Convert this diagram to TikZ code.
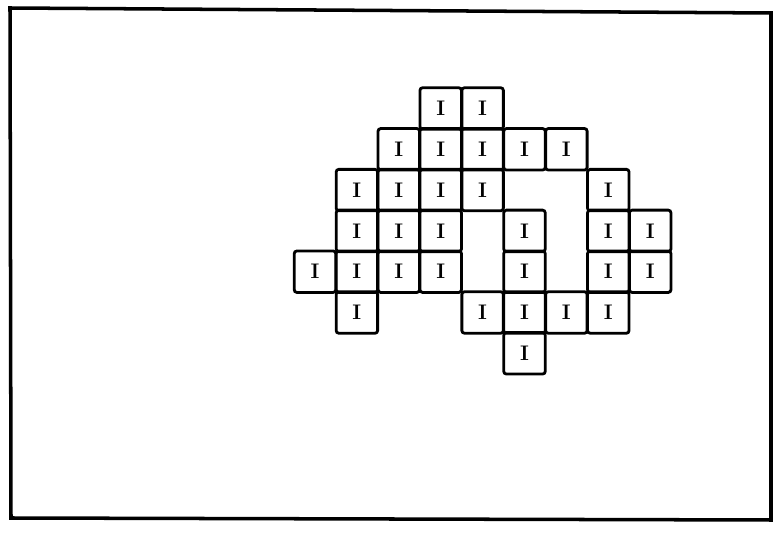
\documentclass[tikz,border=0pt]{standalone}
\usepackage{tikz}
\usetikzlibrary{positioning}

\tikzset{
  tile/.style={draw,line width=1.6pt,rounded corners=1.5pt,minimum size=0.83cm,inner sep=0pt,font=\bfseries\large},
  frame/.style={line width=2pt}
}

\begin{document}
\begin{tikzpicture}[x=0.02cm,y=-0.02cm]
\useasboundingbox (0,0) rectangle (775,533);
\draw[frame](10,8)--(771,13)--(771,520)--(11,518)--cycle;
% tiles: column/row in the grid
\foreach \c/\r in {3/0,4/0,
  2/1,3/1,4/1,5/1,6/1,
  1/2,2/2,3/2,4/2,7/2,
  1/3,2/3,3/3,5/3,7/3,8/3,
  0/4,1/4,2/4,3/4,5/4,7/4,8/4,
  1/5,4/5,5/5,6/5,7/5,
  5/6}
  \node[tile] (t-\c-\r) at ({315+41.9*\c},{108.5+40.8*\r}) {I};
\end{tikzpicture}
\end{document}
